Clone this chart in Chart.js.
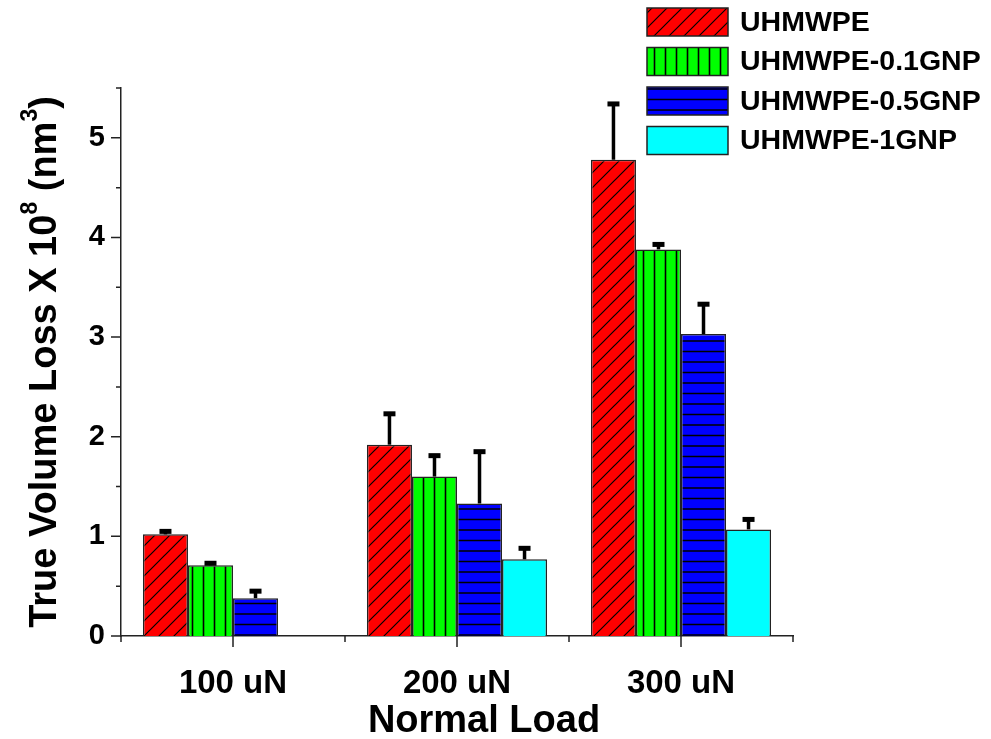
<!DOCTYPE html>
<html>
<head>
<meta charset="utf-8">
<script src="https://cdn.jsdelivr.net/npm/chart.js@4.4.1/dist/chart.umd.min.js"></script>
<style>
  html, body { margin: 0; padding: 0; background: #ffffff; }
  #wrap { width: 991px; height: 739px; position: relative; }
</style>
</head>
<body>
<div id="wrap"><canvas id="c"></canvas></div>
<script>
// ---- data ----
const categories = ['100 uN', '200 uN', '300 uN'];
const seriesNames = ['UHMWPE', 'UHMWPE-0.1GNP', 'UHMWPE-0.5GNP', 'UHMWPE-1GNP'];
const uhmwpe      = [1.02, 1.92, 4.78];
const uhmwpeErr   = [0.03, 0.31, 0.56];
const gnp01       = [0.71, 1.60, 3.88];
const gnp01Err    = [0.02, 0.21, 0.05];
const gnp05       = [0.38, 1.33, 3.03];
const gnp05Err    = [0.07, 0.52, 0.30];
const gnp1        = [null, 0.77, 1.07];
const gnp1Err     = [0, 0.11, 0.10];
const yTicksMax = 5.5;
const xTitleText = 'Normal Load';

const FONT = "'Liberation Sans', Arial, Helvetica, sans-serif";

// ---- fill patterns ----
function makePattern(w, h, bg, drawLines) {
  const c = document.createElement('canvas');
  c.width = w; c.height = h;
  const g = c.getContext('2d');
  g.fillStyle = bg;
  g.fillRect(0, 0, w, h);
  g.strokeStyle = '#000000';
  g.lineWidth = 1.3;
  drawLines(g, w, h);
  return document.createElement('canvas').getContext('2d').createPattern(c, 'repeat');
}
const redPat = makePattern(15, 15, '#ff0000', (g, w, h) => {
  g.lineWidth = 1.2;
  g.beginPath();
  g.moveTo(0, h); g.lineTo(w, 0);
  g.moveTo(-2, 2); g.lineTo(2, -2);
  g.moveTo(w - 2, h + 2); g.lineTo(w + 2, h - 2);
  g.stroke();
});
const greenPat = makePattern(11, 11, '#00ff00', (g, w, h) => {
  g.lineWidth = 1.6;
  g.beginPath(); g.moveTo(5.5, 0); g.lineTo(5.5, h); g.stroke();
});
const bluePat = makePattern(21, 21, '#0000ff', (g, w, h) => {
  g.lineWidth = 1.6;
  g.beginPath();
  g.moveTo(0, 5); g.lineTo(w, 5);
  g.moveTo(0, 15.5); g.lineTo(w, 15.5);
  g.stroke();
});
const cyanFill = '#00ffff';

const fills = [redPat, greenPat, bluePat, cyanFill];
const values = [uhmwpe, gnp01, gnp05, gnp1];
const errors = [uhmwpeErr, gnp01Err, gnp05Err, gnp1Err];

const datasets = seriesNames.map((name, i) => ({
  label: name,
  data: values[i],
  errors: errors[i],
  backgroundColor: fills[i],
  borderColor: '#222222',
  borderWidth: 1.5,
  borderSkipped: 'bottom',
  barPercentage: 1.0,
  categoryPercentage: 0.804
}));

// ---- plugins ----
const errorBars = {
  id: 'errorBars',
  afterDatasetsDraw(chart) {
    const ctx = chart.ctx;
    const ys = chart.scales.y;
    chart.data.datasets.forEach((ds, i) => {
      const meta = chart.getDatasetMeta(i);
      meta.data.forEach((bar, j) => {
        const v = ds.data[j];
        const e = ds.errors[j];
        if (v == null || !e) return;
        const y0 = ys.getPixelForValue(v);
        const y1 = ys.getPixelForValue(v + e);
        ctx.save();
        ctx.strokeStyle = '#000000';
        ctx.fillStyle = '#000000';
        ctx.lineWidth = 3.5;
        ctx.beginPath();
        ctx.moveTo(bar.x, y0);
        ctx.lineTo(bar.x, y1);
        ctx.stroke();
        ctx.fillRect(bar.x - 6, y1 - 2.5, 12, 5);
        ctx.restore();
      });
    });
  }
};

const axisTicks = {
  id: 'axisTicks',
  afterDraw(chart) {
    const ctx = chart.ctx;
    const xs = chart.scales.x, ys = chart.scales.y;
    const area = chart.chartArea;
    ctx.save();
    ctx.strokeStyle = '#222222';
    ctx.lineWidth = 1.5;
    ctx.beginPath();
    ys.ticks.forEach(t => {
      const y = ys.getPixelForValue(t.value);
      const len = Number.isInteger(t.value) ? 10 : 5;
      ctx.moveTo(area.left - len, y);
      ctx.lineTo(area.left, y);
    });
    for (let i = 0; i < categories.length; i++) {
      const x = xs.getPixelForValue(i);
      ctx.moveTo(x, area.bottom);
      ctx.lineTo(x, area.bottom + 11);
    }
    for (let i = 0; i <= categories.length; i++) {
      const x = xs.getPixelForValue(i - 0.5);
      ctx.moveTo(x, area.bottom);
      ctx.lineTo(x, area.bottom + 6);
    }
    ctx.stroke();
    ctx.restore();
  }
};

const axisTitles = {
  id: 'axisTitles',
  afterDraw(chart) {
    const ctx = chart.ctx;
    const area = chart.chartArea;
    // x title (slightly right of the plot centre, as in the original figure)
    ctx.save();
    ctx.fillStyle = '#000000';
    ctx.font = 'bold 38px ' + FONT;
    ctx.textAlign = 'center';
    ctx.textBaseline = 'middle';
    ctx.fillText(xTitleText, (area.left + area.right) / 2 + 27, 722);
    ctx.restore();

    // y title with superscripts
    const segs = [
      { t: 'True Volume Loss X 10', sup: false },
      { t: '8', sup: true },
      { t: ' (nm', sup: false },
      { t: '3', sup: true },
      { t: ')', sup: false }
    ];
    const mainF = 'bold 38px ' + FONT;
    const supF = 'bold 23px ' + FONT;
    ctx.save();
    ctx.translate(46, (area.top + area.bottom) / 2);
    ctx.rotate(-Math.PI / 2);
    let total = 0;
    segs.forEach(s => { ctx.font = s.sup ? supF : mainF; s.w = ctx.measureText(s.t).width; total += s.w; });
    let x = -total / 2;
    ctx.fillStyle = '#000000';
    ctx.textBaseline = 'middle';
    ctx.textAlign = 'left';
    segs.forEach(s => {
      ctx.font = s.sup ? supF : mainF;
      ctx.fillText(s.t, x, s.sup ? -15 : 0);
      x += s.w;
    });
    ctx.restore();
  }
};

const customLegend = {
  id: 'customLegend',
  afterDraw(chart) {
    const ctx = chart.ctx;
    ctx.save();
    chart.data.datasets.forEach((ds, i) => {
      const bx = 647, by = 8 + i * 39.5, bw = 81, bh = 28;
      ctx.fillStyle = ds.backgroundColor;
      ctx.fillRect(bx, by, bw, bh);
      ctx.strokeStyle = '#222222';
      ctx.lineWidth = 1.5;
      ctx.strokeRect(bx, by, bw, bh);
      ctx.fillStyle = '#000000';
      ctx.font = 'bold 28.5px ' + FONT;
      ctx.textBaseline = 'middle';
      ctx.textAlign = 'left';
      ctx.fillText(ds.label, 740, by + bh / 2 + 1);
    });
    ctx.restore();
  }
};

new Chart(document.getElementById('c'), {
  type: 'bar',
  data: { labels: categories, datasets },
  options: {
    responsive: true,
    maintainAspectRatio: false,
    animation: false,
    layout: { padding: { top: 88, right: 198, left: 0, bottom: 0 } },
    plugins: {
      legend: { display: false },
      tooltip: { enabled: false }
    },
    scales: {
      x: {
        type: 'category',
        offset: true,
        grid: { display: false, drawTicks: false },
        border: { display: true, color: '#222222', width: 1.5 },
        ticks: {
          color: '#000000',
          font: { family: FONT, size: 33, weight: 'bold' },
          padding: 28,
          maxRotation: 0
        },
        title: { display: false },
        afterFit(s) { s.height = 103; }
      },
      y: {
        min: 0,
        max: yTicksMax,
        grid: { display: false, drawTicks: false },
        border: { display: true, color: '#222222', width: 1.5 },
        ticks: {
          stepSize: 0.5,
          color: '#000000',
          font: { family: FONT, size: 29, weight: 'bold' },
          padding: 16,
          callback: (v) => Number.isInteger(v) ? String(v) : ''
        },
        afterFit(s) { s.width = 121; }
      }
    }
  },
  plugins: [errorBars, axisTicks, axisTitles, customLegend]
});
</script>
</body>
</html>
